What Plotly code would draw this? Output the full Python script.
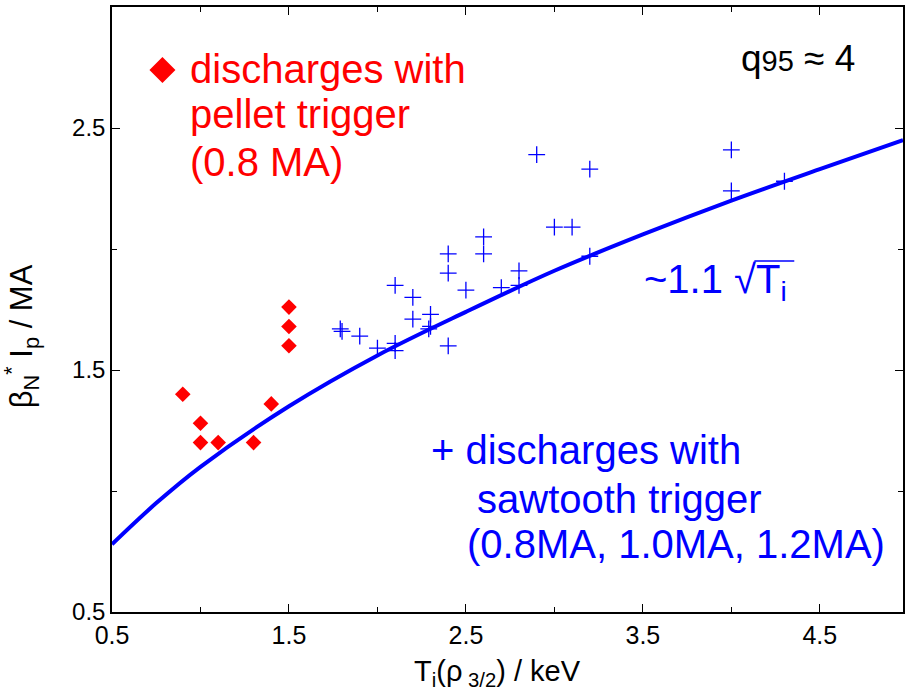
import plotly.graph_objects as go

# ---- data ----
pellet_T = [0.9, 1.0, 1.0, 1.1, 1.3, 1.4, 1.5, 1.5, 1.5]
pellet_B = [1.40, 1.28, 1.20, 1.20, 1.20, 1.36, 1.76, 1.68, 1.60]

saw_T = [1.79, 1.80, 1.90, 2.00, 2.10, 2.10, 2.10, 2.20, 2.20, 2.30, 2.30, 2.29,
         2.40, 2.40, 2.40, 2.50, 2.60, 2.60, 2.70, 2.80, 2.80, 2.90, 3.00, 3.10,
         3.20, 3.20, 4.00, 4.00, 4.30]
saw_B = [1.67, 1.66, 1.64, 1.59, 1.85, 1.61, 1.58, 1.80, 1.71, 1.73, 1.68, 1.67,
         1.98, 1.90, 1.60, 1.83, 2.05, 1.98, 1.84, 1.91, 1.85, 2.39, 2.09, 2.09,
         2.33, 1.97, 2.41, 2.24, 2.28]

fit_T = [0.5, 0.75, 1.0, 1.5, 2.0, 2.5, 3.0, 3.5, 4.0, 4.5, 4.97]
fit_B = [0.78, 0.95, 1.10, 1.35, 1.56, 1.74, 1.91, 2.06, 2.20, 2.33, 2.45]

legend_T = [0.785]
legend_B = [2.74]

x_ticks = [0.5, 1.5, 2.5, 3.5, 4.5]
x_minor = [1.0, 2.0, 3.0, 4.0]
y_ticks = [0.5, 1.5, 2.5]
y_minor = [1.0, 2.0, 3.0]

RED = "#ff0000"
BLUE = "#0000ff"
FONT = "Liberation Sans, Arial, Helvetica, sans-serif"

W, H = 905, 695
L, R, T, B = 112, 0, 7, 83


def px(xp):
    return (xp - L) / (W - L - R)


def py(yp):
    return (H - B - yp) / (H - T - B)


fig = go.Figure()
fig.add_trace(go.Scatter(x=fit_T, y=fit_B, mode="lines", line=dict(color=BLUE, width=4, shape="spline"),
                         showlegend=False, hoverinfo="skip"))
fig.add_trace(go.Scatter(x=saw_T, y=saw_B, mode="markers",
                         marker=dict(symbol="cross-thin", size=12, line=dict(color=BLUE, width=1.3), color=BLUE),
                         showlegend=False))
fig.add_trace(go.Scatter(x=pellet_T, y=pellet_B, mode="markers",
                         marker=dict(symbol="diamond", size=12, color=RED, line=dict(width=0)),
                         showlegend=False))
fig.add_trace(go.Scatter(x=legend_T, y=legend_B, mode="markers",
                         marker=dict(symbol="diamond", size=20, color=RED, line=dict(width=0)),
                         showlegend=False))

annos = []


def txt(text, xp, yp, color, size, xanchor="left", angle=0):
    annos.append(dict(text=text, x=px(xp), y=py(yp), xref="paper", yref="paper", xanchor=xanchor,
                      yanchor="middle", showarrow=False, textangle=angle,
                      font=dict(color=color, size=size, family=FONT)))


# red legend block
txt("discharges with", 188, 69, RED, 40)
txt("pellet trigger", 188, 114, RED, 40)
txt("(0.8 MA)", 188, 162, RED, 40)
# blue legend block
txt("+ discharges with", 430, 450, BLUE, 40)
txt("sawtooth trigger", 476, 499, BLUE, 40)
txt("(0.8MA, 1.0MA, 1.2MA)", 466, 544, BLUE, 40)
# fit label
txt("~1.1 √T<sub>i</sub>", 643, 282, BLUE, 40)
# q95
txt("q<span style='font-size:29px'>95</span> ≈ 4", 741, 58, "black", 37)
# y axis title
txt("β<sub>N</sub><sup>*</sup> I<sub>p</sub> / MA", 21, 336, "black", 31, xanchor="center", angle=-90)
# x axis title
txt("T<sub>i</sub>(ρ<sub> 3/2</sub>) / keV", 498, 673, "black", 29, xanchor="center")

fig.update_layout(
    width=W, height=H,
    margin=dict(l=L, r=R, t=T, b=B),
    paper_bgcolor="white", plot_bgcolor="white",
    font=dict(family=FONT, color="black"),
    annotations=annos,
    shapes=[dict(type="line", xref="paper", yref="paper", x0=px(756), x1=px(796), y0=py(261), y1=py(261),
                 line=dict(color=BLUE, width=1.5))],
    xaxis=dict(range=[0.5, 4.97], tickvals=x_ticks, ticktext=[f"{v:.1f}" for v in x_ticks],
               ticks="inside", ticklen=8, tickwidth=1, tickcolor="black",
               minor=dict(tickvals=x_minor, ticks="inside", ticklen=5, tickcolor="black"),
               showline=True, linecolor="black", linewidth=1.5, mirror="ticks",
               showgrid=False, zeroline=False, tickfont=dict(size=25)),
    yaxis=dict(range=[0.5, 3.0], tickvals=y_ticks, ticktext=[f"{v:.1f}" for v in y_ticks],
               ticks="inside", ticklen=8, tickwidth=1, tickcolor="black",
               minor=dict(tickvals=y_minor, ticks="inside", ticklen=5, tickcolor="black"),
               showline=True, linecolor="black", linewidth=1.5, mirror="ticks",
               showgrid=False, zeroline=False, tickfont=dict(size=24)),
)

fig.write_html("out.html")
